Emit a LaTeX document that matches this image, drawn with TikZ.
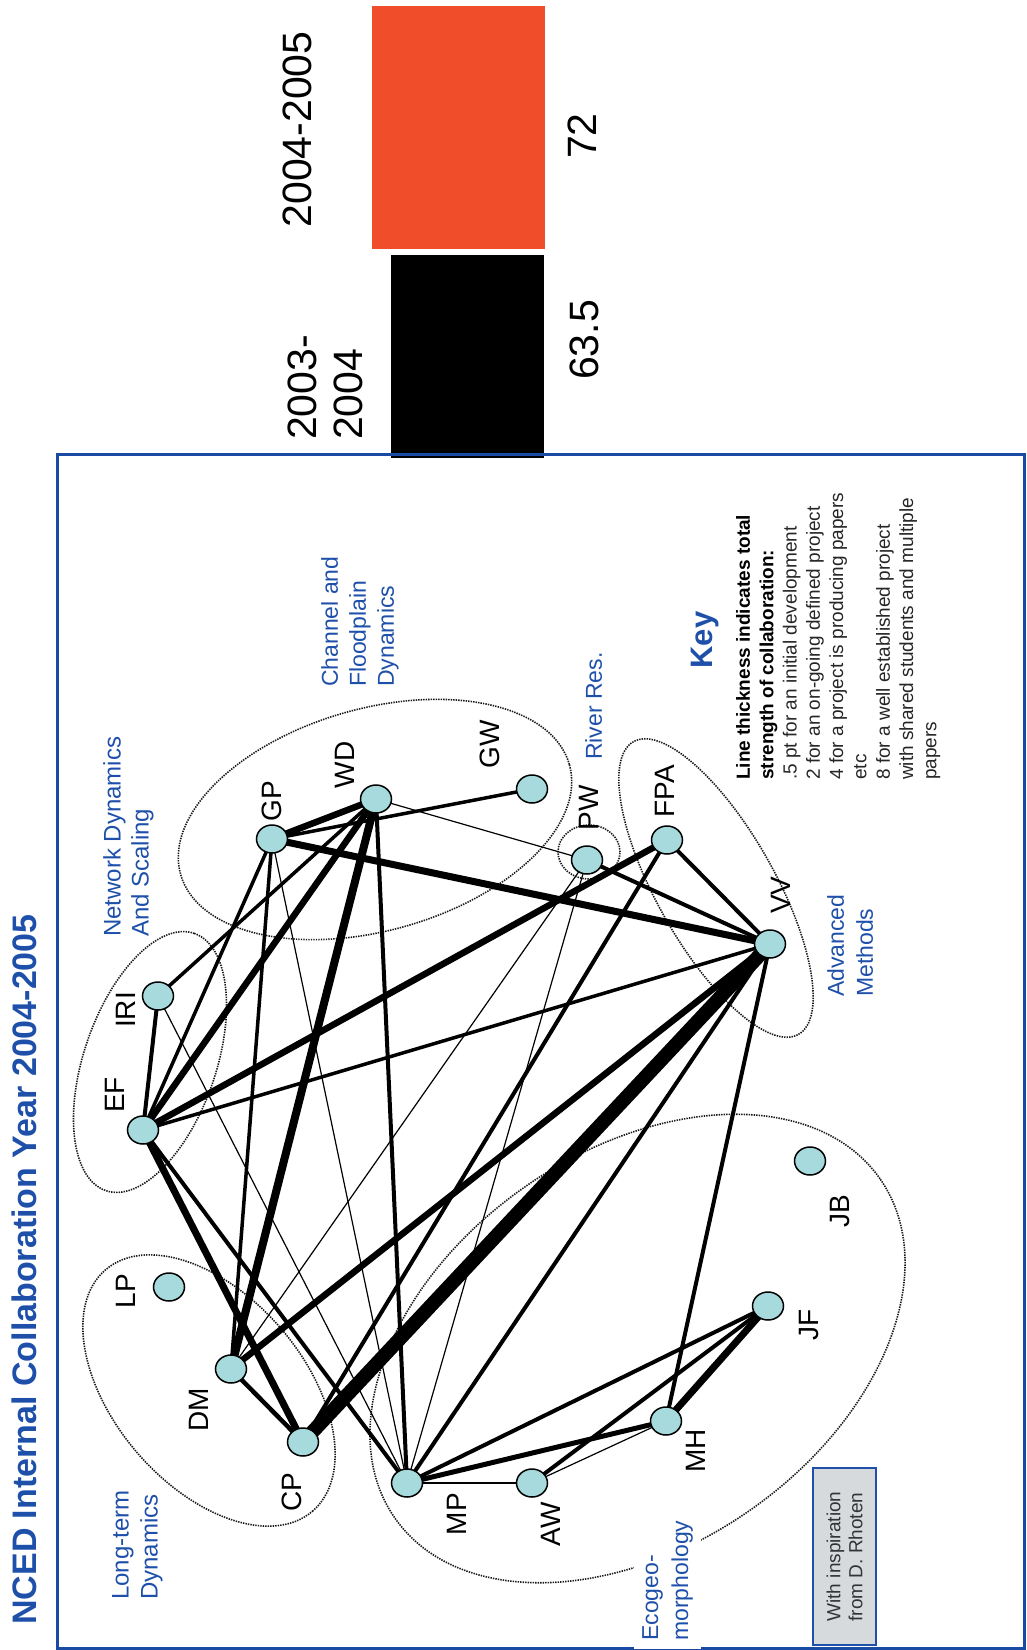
\documentclass[tikz,border=0pt]{standalone}
\usepackage{fontspec}
\setmainfont{Liberation Sans}
\usetikzlibrary{shapes.geometric}
\definecolor{ncedblue}{RGB}{30,80,170}
\definecolor{framblue}{RGB}{25,75,165}
\definecolor{nodefill}{RGB}{166,218,221}
\definecolor{barorange}{RGB}{240,78,42}
\definecolor{notegray}{RGB}{214,218,221}
\pgfdeclarelayer{bg}
\pgfsetlayers{bg,main}

\begin{document}
\begin{tikzpicture}[x=1pt, y=-1pt,
	person/.style={ellipse, draw=black, line width=1.5pt, fill=nodefill, minimum width=31pt, minimum height=28pt, inner sep=0pt},
	who/.style={rotate=90, inner sep=0pt, font=\fontsize{28}{33}\selectfont},
	grp/.style={draw=black!90, line width=1.6pt, dash pattern=on 1.4pt off 1.1pt},
	grptext/.style={rotate=90, inner sep=0pt, anchor=north west, align=left, text=ncedblue},
	col/.style={line width=#1pt},
	yeartext/.style={rotate=90, inner sep=0pt, font=\fontsize{41}{46}\selectfont},]
	\useasboundingbox (0,0) rectangle (1026,1650);

	\fill[barorange] (372,6) rectangle (545,249);
	\fill[black] (391,255) rectangle (544,458);
	\node[yeartext] (y05) at (297.5,129.5) {2004-2005};
	\node[yeartext, anchor=north west, align=left] (y04) at (288,440) {2003-\\2004};
	\node[yeartext] (v05) at (582,136) {72};
	\node[yeartext] (v04) at (584,340) {63.5};

	\draw[framblue, line width=3pt] (57,454) rectangle (1024,1648);
	\node[rotate=90, inner sep=0pt, text=ncedblue, font=\fontsize{34}{40}\selectfont\bfseries] (title) at (24.6,1269.5) {NCED Internal Collaboration Year 2004-2005};

	\node[person] (GW) at (532,789) {};
	\node[person] (WD) at (376,799) {};
	\node[person] (GP) at (272,839) {};
	\node[person] (PW) at (587,860) {};
	\node[person] (FPA) at (667,840) {};
	\node[person] (VV) at (770,944) {};
	\node[person] (IRI) at (158,996) {};
	\node[person] (EF) at (143,1130) {};
	\node[person] (JB) at (810,1161) {};
	\node[person] (LP) at (169,1287) {};
	\node[person] (JF) at (768,1306) {};
	\node[person] (DM) at (231,1369) {};
	\node[person] (MH) at (666,1421) {};
	\node[person] (CP) at (303,1442) {};
	\node[person] (MP) at (407,1483) {};
	\node[person] (AW) at (532,1483) {};

	\node[who] (GW-t) at (490,744) {GW};
	\node[who] (WD-t) at (345,765) {WD};
	\node[who] (GP-t) at (272,801) {GP};
	\node[who] (PW-t) at (589,808) {PW};
	\node[who] (FPA-t) at (665,791) {FPA};
	\node[who] (VV-t) at (781,895) {VV};
	\node[who] (IRI-t) at (126,1010) {IRI};
	\node[who] (EF-t) at (115,1095) {EF};
	\node[who] (JB-t) at (840,1211) {JB};
	\node[who] (LP-t) at (126,1291) {LP};
	\node[who] (JF-t) at (809,1325) {JF};
	\node[who] (DM-t) at (199,1410) {DM};
	\node[who] (MH-t) at (696,1451) {MH};
	\node[who] (CP-t) at (292,1492) {CP};
	\node[who] (MP-t) at (457,1514) {MP};
	\node[who] (AW-t) at (551,1524) {AW};

	\begin{pgfonlayer}{bg}
	\draw[grp, rotate around={71:(150,1062)}] (150,1062) ellipse [x radius=136pt, y radius=66pt];
	\draw[grp, rotate around={15.8:(375,819.5)}] (375,819.5) ellipse [x radius=202pt, y radius=111pt];
	\draw[grp] (589,852) ellipse [x radius=31pt, y radius=27pt];
	\draw[grp, rotate around={-60.6:(716,888)}] (716,888) ellipse [x radius=168pt, y radius=59pt];
	\draw[grp, rotate around={-49.4:(209,1390.5)}] (209,1390.5) ellipse [x radius=159pt, y radius=95pt];
	\draw[grp, rotate around={35:(637.5,1348.5)}] (637.5,1348.5) ellipse [x radius=296pt, y radius=197pt];

	\draw[col=6.5] (GP.center) -- (WD.center);
	\draw[col=3.5] (GP.center) -- (GW.center);
	\draw[col=7] (GP.center) -- (VV.center);
	\draw[col=3.5] (GP.center) -- (EF.center);
	\draw[col=3.5] (GP.center) -- (DM.center);
	\draw[col=1.2] (GP.center) -- (MP.center);
	\draw[col=6.5] (WD.center) -- (EF.center);
	\draw[col=8] (WD.center) -- (DM.center);
	\draw[col=3.5] (WD.center) -- (IRI.center);
	\draw[col=1.2] (WD.center) -- (PW.center);
	\draw[col=4] (WD.center) -- (MP.center);
	\draw[col=4] (EF.center) -- (IRI.center);
	\draw[col=6.5] (EF.center) -- (FPA.center);
	\draw[col=3.5] (EF.center) -- (VV.center);
	\draw[col=7] (EF.center) -- (CP.center);
	\draw[col=4] (EF.center) -- (MP.center);
	\draw[col=1.2] (IRI.center) -- (MP.center);
	\draw[col=4] (FPA.center) -- (VV.center);
	\draw[col=4] (FPA.center) -- (CP.center);
	\draw[col=4] (PW.center) -- (VV.center);
	\draw[col=1.2] (PW.center) -- (MP.center);
	\draw[col=1.2] (PW.center) -- (DM.center);
	\draw[col=6.5] (VV.center) -- (DM.center);
	\draw[col=14] (VV.center) -- (CP.center);
	\draw[col=4] (VV.center) -- (MP.center);
	\draw[col=4] (VV.center) -- (MH.center);
	\draw[col=4.5] (DM.center) -- (CP.center);
	\draw[col=1.2] (MP.center) -- (AW.center);
	\draw[col=4] (MP.center) -- (JF.center);
	\draw[col=5] (MP.center) -- (MH.center);
	\draw[col=4] (AW.center) -- (JF.center);
	\draw[col=1.2] (AW.center) -- (MH.center);
	\draw[col=7] (MH.center) -- (JF.center);
	\end{pgfonlayer}

	\node[grptext, font=\fontsize{24}{28}\selectfont] (netlbl) at (103,937) {Network Dynamics\\And Scaling};
	\node[grptext, font=\fontsize{23}{28}\selectfont] (chanlbl) at (321,687) {Channel and\\Floodplain\\Dynamics};
	\node[grptext, font=\fontsize{23}{28}\selectfont] (riverlbl) at (585,760) {River Res.};
	\node[grptext, font=\fontsize{23}{29}\selectfont] (advlbl) at (827,997) {Advanced\\Methods};
	\node[grptext, font=\fontsize{24}{29}\selectfont] (longlbl) at (112,1600) {Long-term\\Dynamics};
	\node[grptext, font=\fontsize{23}{30}\selectfont, fill=white, inner sep=8pt] (ecolbl) at (634,1649) {Ecogeo-\\morphology};

	\node[rotate=90, inner sep=0pt, text=ncedblue, font=\fontsize{31}{36}\selectfont\bfseries] (key) at (705,640) {Key};
	\node[rotate=90, anchor=north west, inner sep=0pt, align=left, text=black!85, font=\fontsize{19}{23.3}\selectfont] (keytext) at (736,780) {\textbf{\color{black}Line thickness indicates total}\\\textbf{\color{black}strength of collaboration:}\\.5 pt for an initial development\\2 for an on-going defined project\\4 for a project is producing papers\\etc\\8 for a well established project\\with shared students and multiple\\papers};

	\node[rotate=90, draw=ncedblue, line width=2pt, fill=notegray, minimum width=177pt, minimum height=63pt, align=left, text=black!80, font=\fontsize{19}{22}\selectfont] (credit) at (844.5,1556.5) {With inspiration\\from D. Rhoten};
\end{tikzpicture}
\end{document}
